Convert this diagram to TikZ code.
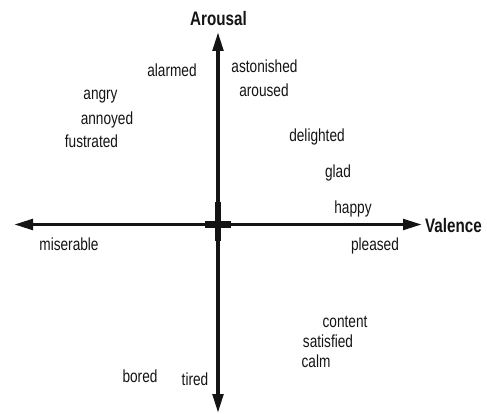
\documentclass[tikz,border=0pt]{standalone}
\usepackage{fontspec}
\setmainfont{Liberation Sans}[FakeStretch=0.78]
\usetikzlibrary{arrows.meta}
\definecolor{ink}{HTML}{141414}

\begin{document}
\begin{tikzpicture}[x=1pt, y=-1pt,
    axis/.style={line width=3.6pt, ink, -{Triangle[length=19pt, width=10.5pt]}},
    word/.style={anchor=base, inner sep=0pt, ink, font=\fontsize{17.5}{20}\selectfont},
    axlabel/.style={anchor=base, inner sep=0pt, ink, font=\fontsize{19.5}{22}\bfseries}]
  \def\ox{218}\def\oy{224.5}
  \useasboundingbox (0,0) rectangle (487,414);

  % axis ends
  \coordinate (origin) at (\ox,\oy);
  \coordinate (vtop) at (\ox,32);
  \coordinate (vbot) at (\ox,413);
  \coordinate (hleft) at (14,\oy);
  \coordinate (hright) at (422,\oy);

  % axes
  \draw[axis] (origin) -- (vtop);
  \draw[axis] (origin) -- (vbot);
  \draw[axis] (origin) -- (hleft);
  \draw[axis] (origin) -- (hright);

  % small cross at the origin
  \draw[line width=6.5pt, ink] (\ox-13,\oy) -- (\ox+13,\oy);
  \draw[line width=5.5pt, ink] (\ox,\oy-22) -- (\ox,\oy+16);

  % axis labels
  \node[axlabel] (arousal) at (218.5,26) {Arousal};
  \node[axlabel] (valence) at (453.5,232) {Valence};

  % upper left
  \node[word] (alarmed) at (172,77) {alarmed};
  \node[word] (angry) at (100.5,100) {angry};
  \node[word] (annoyed) at (107,125) {annoyed};
  \node[word] (fustrated) at (91.5,148) {fustrated};

  % upper right
  \node[word] (astonished) at (264.5,73) {astonished};
  \node[word] (aroused) at (264,97) {aroused};
  \node[word] (delighted) at (317,142) {delighted};
  \node[word] (glad) at (338,178) {glad};
  \node[word] (happy) at (353,213) {happy};

  % lower half
  \node[word] (miserable) at (69,250) {miserable};
  \node[word] (pleased) at (375,250) {pleased};
  \node[word] (content) at (345,327) {content};
  \node[word] (satisfied) at (328,347) {satisfied};
  \node[word] (calm) at (316,367) {calm};
  \node[word] (bored) at (140,382) {bored};
  \node[word] (tired) at (195,385) {tired};
\end{tikzpicture}
\end{document}
